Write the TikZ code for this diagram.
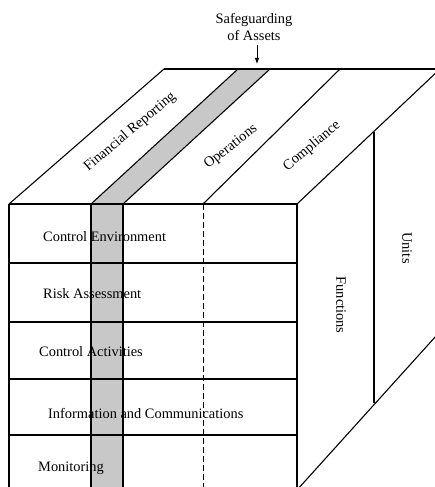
\documentclass[tikz,border=0pt]{standalone}
\usepackage{fontspec}
\setmainfont{Liberation Serif}
\usetikzlibrary{arrows.meta}
\definecolor{bandgray}{RGB}{200,200,200}
\tikzset{
  edge/.style={line width=1.1pt, black},
  lbl/.style={font=\fontsize{14.4}{17}\selectfont, inner sep=0pt},
  rowlbl/.style={lbl, anchor=west},
  band/.style={fill=bandgray, draw=black, line width=1.1pt},
}
\begin{document}
\begin{tikzpicture}[x=1pt,y=-1pt]
\useasboundingbox (0,0) rectangle (435,487);
\clip (0,0) rectangle (435,487);
% corner coordinates
\coordinate (FL) at (9,204);
\coordinate (FR) at (297,204);
\coordinate (BL) at (164,69);
\coordinate (BR) at (440,69);
\coordinate (BE) at (460,69);
\coordinate (FLb) at (9,500);
\coordinate (FRb) at (297,500);
\coordinate (RB) at (297,490);
\coordinate (RBe) at (455,315);
% gray band
\path[fill=bandgray] (91,204) -- (238,69) -- (270,69) -- (123,204) -- cycle;
\path[fill=bandgray] (91,204) rectangle (123,500);
% top face
\draw[edge] (BL) -- (BE);
\draw[edge] (FL) -- (BL);
\draw[edge] (91,204) -- (238,69);
\draw[edge] (123,204) -- (270,69);
\draw[edge] (203,204) -- (340,69);
\draw[edge] (FR) -- (BR);
% front face
\draw[edge] (FL) -- (FR) -- (FRb);
\draw[edge] (FL) -- (FLb);
\foreach \y in {263,322,379,435} \draw[edge] (9,\y) -- (297,\y);
\draw[edge] (91,204) -- (91,500);
\draw[edge] (123,204) -- (123,500);
\draw[line width=1pt, dash pattern=on 6pt off 3pt] (203,204) -- (203,500);
% right face
\draw[edge] (RB) -- (RBe);
\draw[edge] (374,132) -- (374,403);
% labels
\node[lbl, align=center] (safe) at (254,27) {Safeguarding\\of Assets};
\coordinate (safeTip) at (257,64);
\draw[line width=0.8pt, -{Latex[length=6pt,width=4.5pt]}] (257,45) -- (safeTip);
\node[lbl, rotate=40] (fin) at (130,132) {Financial Reporting};
\node[lbl, rotate=38] (ops) at (231,147) {Operations};
\node[lbl, rotate=40] (comp) at (312,146) {Compliance};
\node[rowlbl] (ce) at (43,237) {Control Environment};
\node[rowlbl] (ra) at (43,294) {Risk Assessment};
\node[rowlbl] (ca) at (39,352) {Control Activities};
\node[rowlbl] (ic) at (48,413) {Information and Communications};
\node[rowlbl] (mo) at (38,468) {Monitoring};
\node[lbl, rotate=-90] (fun) at (341,305) {Functions};
\node[lbl, rotate=-90] (uni) at (407,248) {Units};
\end{tikzpicture}
\end{document}
